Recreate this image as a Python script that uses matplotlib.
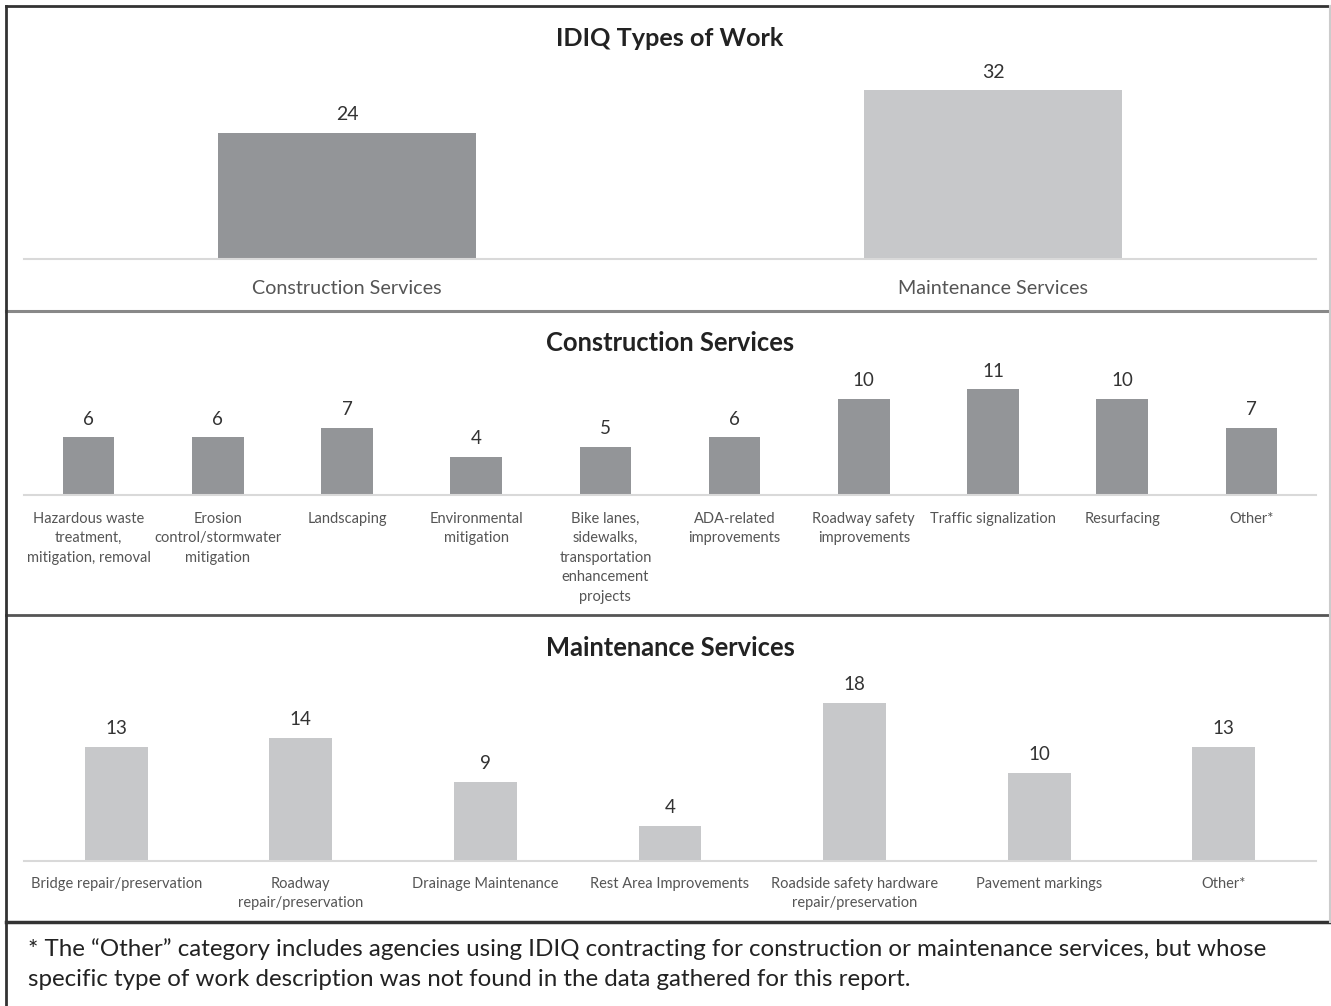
import numpy as np
import matplotlib.pyplot as plt
from matplotlib.lines import Line2D

plt.rcParams['font.family'] = ['Lato', 'DejaVu Sans']

# data
types_labels = ['Construction Services', 'Maintenance Services']
types_values = [24, 32]

constr_labels = ['Hazardous waste\ntreatment,\nmitigation, removal',
                 'Erosion\ncontrol/stormwater\nmitigation',
                 'Landscaping',
                 'Environmental\nmitigation',
                 'Bike lanes,\nsidewalks,\ntransportation\nenhancement\nprojects',
                 'ADA-related\nimprovements',
                 'Roadway safety\nimprovements',
                 'Traffic signalization',
                 'Resurfacing',
                 'Other*']
constr_values = [6, 6, 7, 4, 5, 6, 10, 11, 10, 7]

maint_labels = ['Bridge repair/preservation',
                'Roadway\nrepair/preservation',
                'Drainage Maintenance',
                'Rest Area Improvements',
                'Roadside safety hardware\nrepair/preservation',
                'Pavement markings',
                'Other*']
maint_values = [13, 14, 9, 4, 18, 10, 13]

footnote = ('* The \u201cOther\u201d category includes agencies using IDIQ contracting for construction or maintenance services, but whose\n'
            'specific type of work description was not found in the data gathered for this report.')

W, H = 1331, 1006
DARK = '#939598'
LIGHT = '#c7c8ca'

fig = plt.figure(figsize=(W / 100, H / 100), dpi=100)


def px_axes(x0, x1, ytop, ybot):
    return fig.add_axes([x0 / W, 1 - ybot / H, (x1 - x0) / W, (ybot - ytop) / H])


def bar_panel(ax, labels, values, color, width, ymax, tick_size, val_size, pad, ls=1.25):
    x = np.arange(len(values))
    bars = ax.bar(x, values, width=width, color=color, zorder=2)
    ax.bar_label(bars, labels=[str(v) for v in values], padding=7,
                 fontsize=val_size, color='#333333')
    ax.set_xlim(-0.5, len(values) - 0.5)
    ax.set_ylim(0, ymax)
    ax.set_xticks(x)
    ax.set_xticklabels(labels, fontsize=tick_size, color='#555555', linespacing=ls)
    ax.tick_params(axis='x', length=0, pad=pad)
    ax.set_yticks([])
    for s in ['top', 'left', 'right']:
        ax.spines[s].set_visible(False)
    ax.spines['bottom'].set_color('#d9d9d9')
    ax.spines['bottom'].set_linewidth(1.5)


# top panel: IDIQ types of work
ax1 = px_axes(24, 1316, 60, 259)
bar_panel(ax1, types_labels, types_values, [DARK, LIGHT], 0.4, 199 / 5.27, 14.2, 14, 15)
fig.text(670 / W, 1 - 38 / H, 'IDIQ Types of Work', ha='center', va='center',
         fontsize=18.2, fontweight='bold', color='#222222')

# middle panel: construction services
ax2 = px_axes(24, 1316, 360, 495)
bar_panel(ax2, constr_labels, constr_values, DARK, 0.4, 135 / 9.6, 10.5, 13.5, 12, ls=1.5)
fig.text(670 / W, 1 - 343 / H, 'Construction Services', ha='center', va='center',
         fontsize=18.4, fontweight='bold', color='#222222')

# bottom panel: maintenance services
ax3 = px_axes(24, 1316, 665, 861)
bar_panel(ax3, maint_labels, maint_values, LIGHT, 0.34, 196 / 8.8, 10.5, 13.5, 11.5, ls=1.5)
fig.text(670 / W, 1 - 648 / H, 'Maintenance Services', ha='center', va='center',
         fontsize=18.4, fontweight='bold', color='#222222')

fig.text(28 / W, 1 - 964 / H, footnote, ha='left', va='center',
         fontsize=17.4, color='#222222', linespacing=1.5)

# frame and dividers
def hline(y, x0, x1, color, lw):
    fig.add_artist(Line2D([x0 / W, x1 / W], [1 - y / H, 1 - y / H], color=color, lw=lw))


def vline(x, y0, y1, color, lw):
    fig.add_artist(Line2D([x / W, x / W], [1 - y0 / H, 1 - y1 / H], color=color, lw=lw))


hline(6, 6, 1331, '#333333', 2)
hline(311, 6, 1331, '#888888', 2.2)
hline(615, 6, 1331, '#555555', 2)
hline(922, 6, 1331, '#333333', 2.5)
vline(6, 6, 1006, '#333333', 2)
vline(1329.5, 6, 922, '#cccccc', 1.5)

fig.savefig('out.png', dpi=100)
